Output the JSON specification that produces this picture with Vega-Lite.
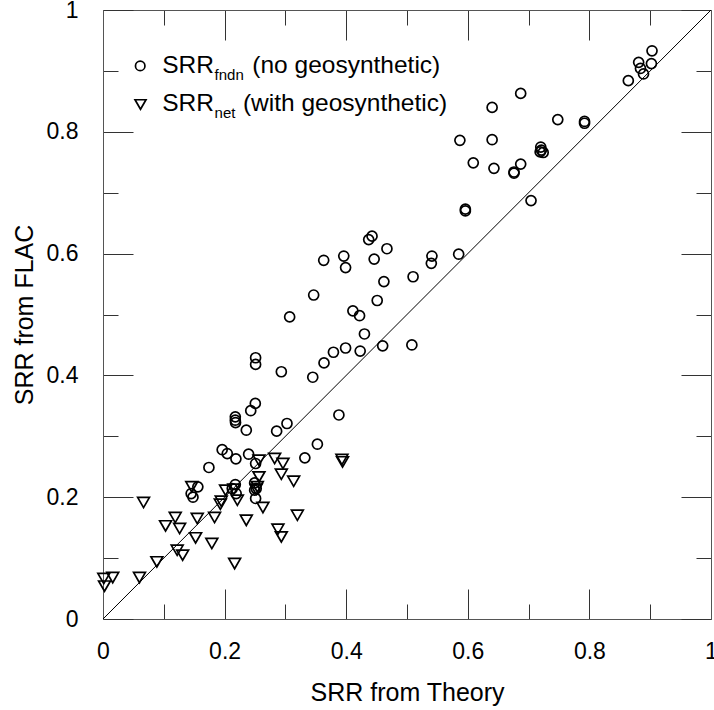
{
  "$schema": "https://vega.github.io/schema/vega-lite/v6.json",
  "width": 608,
  "height": 609,
  "autosize": {"type": "none"},
  "padding": {"left": 103, "top": 10, "right": 3, "bottom": 91},
  "background": "white",
  "config": {
    "view": {"stroke": null},
    "font": "Liberation Sans",
    "axis": {"grid": false, "labelFont": "Liberation Sans", "titleFont": "Liberation Sans", "labelColor": "black", "titleColor": "black", "titleFontWeight": "normal", "labelFontSize": 23, "titleFontSize": 25, "domainColor": "#555", "domainWidth": 1, "tickColor": "#333", "tickWidth": 1, "labelFlush": false, "labelOverlap": false}
  },
  "datasets": {
    "pts": [
      {"x":0.903,"y":0.933,"series":"fndn"},{"x":0.881,"y":0.914,"series":"fndn"},{"x":0.902,"y":0.912,"series":"fndn"},{"x":0.884,"y":0.904,"series":"fndn"},{"x":0.889,"y":0.895,"series":"fndn"},{"x":0.864,"y":0.884,"series":"fndn"},
      {"x":0.687,"y":0.863,"series":"fndn"},{"x":0.640,"y":0.840,"series":"fndn"},{"x":0.748,"y":0.820,"series":"fndn"},{"x":0.792,"y":0.817,"series":"fndn"},{"x":0.792,"y":0.814,"series":"fndn"},
      {"x":0.587,"y":0.786,"series":"fndn"},{"x":0.640,"y":0.787,"series":"fndn"},{"x":0.720,"y":0.775,"series":"fndn"},{"x":0.721,"y":0.770,"series":"fndn"},{"x":0.724,"y":0.766,"series":"fndn"},{"x":0.719,"y":0.767,"series":"fndn"},
      {"x":0.609,"y":0.749,"series":"fndn"},{"x":0.643,"y":0.740,"series":"fndn"},{"x":0.687,"y":0.747,"series":"fndn"},{"x":0.676,"y":0.734,"series":"fndn"},{"x":0.676,"y":0.732,"series":"fndn"},
      {"x":0.596,"y":0.673,"series":"fndn"},{"x":0.596,"y":0.670,"series":"fndn"},{"x":0.704,"y":0.687,"series":"fndn"},{"x":0.585,"y":0.599,"series":"fndn"},{"x":0.541,"y":0.596,"series":"fndn"},{"x":0.540,"y":0.584,"series":"fndn"},{"x":0.510,"y":0.562,"series":"fndn"},{"x":0.508,"y":0.450,"series":"fndn"},
      {"x":0.4425,"y":0.6286,"series":"fndn"},{"x":0.437,"y":0.623,"series":"fndn"},{"x":0.467,"y":0.608,"series":"fndn"},{"x":0.363,"y":0.589,"series":"fndn"},{"x":0.396,"y":0.596,"series":"fndn"},{"x":0.399,"y":0.577,"series":"fndn"},{"x":0.446,"y":0.591,"series":"fndn"},{"x":0.462,"y":0.554,"series":"fndn"},{"x":0.3465,"y":0.532,"series":"fndn"},{"x":0.451,"y":0.523,"series":"fndn"},{"x":0.307,"y":0.496,"series":"fndn"},{"x":0.411,"y":0.506,"series":"fndn"},{"x":0.422,"y":0.498,"series":"fndn"},
      {"x":0.430,"y":0.468,"series":"fndn"},{"x":0.399,"y":0.445,"series":"fndn"},{"x":0.379,"y":0.438,"series":"fndn"},{"x":0.3635,"y":0.4205,"series":"fndn"},{"x":0.423,"y":0.440,"series":"fndn"},{"x":0.460,"y":0.4485,"series":"fndn"},{"x":0.345,"y":0.397,"series":"fndn"},{"x":0.388,"y":0.335,"series":"fndn"},{"x":0.3526,"y":0.287,"series":"fndn"},{"x":0.332,"y":0.2646,"series":"fndn"},
      {"x":0.251,"y":0.429,"series":"fndn"},{"x":0.251,"y":0.418,"series":"fndn"},{"x":0.2933,"y":0.406,"series":"fndn"},{"x":0.2505,"y":0.354,"series":"fndn"},{"x":0.243,"y":0.342,"series":"fndn"},{"x":0.2176,"y":0.332,"series":"fndn"},{"x":0.2176,"y":0.3264,"series":"fndn"},{"x":0.218,"y":0.3226,"series":"fndn"},{"x":0.2357,"y":0.31,"series":"fndn"},{"x":0.3026,"y":0.321,"series":"fndn"},{"x":0.2856,"y":0.3084,"series":"fndn"},
      {"x":0.196,"y":0.278,"series":"fndn"},{"x":0.2044,"y":0.2717,"series":"fndn"},{"x":0.2395,"y":0.2706,"series":"fndn"},{"x":0.2186,"y":0.263,"series":"fndn"},{"x":0.1742,"y":0.2488,"series":"fndn"},{"x":0.251,"y":0.2553,"series":"fndn"},
      {"x":0.2176,"y":0.2208,"series":"fndn"},{"x":0.2126,"y":0.2143,"series":"fndn"},{"x":0.219,"y":0.206,"series":"fndn"},{"x":0.2494,"y":0.2235,"series":"fndn"},{"x":0.252,"y":0.2143,"series":"fndn"},{"x":0.2494,"y":0.2115,"series":"fndn"},{"x":0.251,"y":0.1979,"series":"fndn"},
      {"x":0.156,"y":0.217,"series":"fndn"},{"x":0.145,"y":0.206,"series":"fndn"},{"x":0.148,"y":0.2,"series":"fndn"},
      {"x":0.0667,"y":0.1913,"series":"net"},{"x":0.146,"y":0.217,"series":"net"},{"x":0.1029,"y":0.1529,"series":"net"},{"x":0.1188,"y":0.1667,"series":"net"},{"x":0.126,"y":0.1486,"series":"net"},{"x":0.155,"y":0.165,"series":"net"},{"x":0.1835,"y":0.1667,"series":"net"},{"x":0.193,"y":0.1885,"series":"net"},{"x":0.1945,"y":0.1934,"series":"net"},{"x":0.1523,"y":0.1332,"series":"net"},{"x":0.179,"y":0.124,"series":"net"},{"x":0.122,"y":0.113,"series":"net"},{"x":0.131,"y":0.1048,"series":"net"},{"x":0.0886,"y":0.0938,"series":"net"},{"x":0.060,"y":0.068,"series":"net"},{"x":0.0013,"y":0.0665,"series":"net"},{"x":0.016,"y":0.068,"series":"net"},{"x":0.0025,"y":0.054,"series":"net"},{"x":0.2165,"y":0.091,"series":"net"},{"x":0.2357,"y":0.162,"series":"net"},{"x":0.2016,"y":0.2115,"series":"net"},{"x":0.221,"y":0.195,"series":"net"},{"x":0.215,"y":0.213,"series":"net"},{"x":0.2565,"y":0.2607,"series":"net"},{"x":0.2565,"y":0.2333,"series":"net"},{"x":0.2538,"y":0.217,"series":"net"},{"x":0.252,"y":0.213,"series":"net"},{"x":0.263,"y":0.183,"series":"net"},{"x":0.2823,"y":0.2635,"series":"net"},{"x":0.296,"y":0.2553,"series":"net"},{"x":0.2933,"y":0.2378,"series":"net"},{"x":0.3136,"y":0.2263,"series":"net"},{"x":0.3197,"y":0.1704,"series":"net"},{"x":0.2877,"y":0.1474,"series":"net"},{"x":0.2933,"y":0.1348,"series":"net"},{"x":0.393,"y":0.262,"series":"net"},{"x":0.394,"y":0.258,"series":"net"}
    ],
    "diag": [{"x": 0, "y": 0}, {"x": 1, "y": 1}],
    "one": [{}]
  },
  "resolve": {"axis": {"x": "independent", "y": "independent"}},
  "layer": [
    {
      "data": {"name": "pts"},
      "transform": [{"filter": "datum.series == 'fndn'"}],
      "mark": {"type": "point", "shape": "circle", "filled": false, "color": "black", "strokeWidth": 1.7, "size": 100, "opacity": 1},
      "encoding": {
        "x": {"field": "x", "type": "quantitative", "scale": {"domain": [0, 1], "nice": false},
          "axis": {"orient": "bottom", "title": "SRR from Theory", "values": [0,0.1,0.2,0.3,0.4,0.5,0.6,0.7,0.8,0.9,1],
            "tickSize": {"condition": {"test": "round(datum.value*10)%2==0", "value": -30}, "value": -15},
            "labelExpr": "round(datum.value*10)%2==0 ? format(datum.value,'~g') : ''",
            "labelPadding": 51, "titlePadding": 2}},
        "y": {"field": "y", "type": "quantitative", "scale": {"domain": [0, 1], "nice": false},
          "axis": {"orient": "left", "title": "SRR from FLAC", "values": [0,0.1,0.2,0.3,0.4,0.5,0.6,0.7,0.8,0.9,1],
            "tickSize": {"condition": {"test": "round(datum.value*10)%2==0", "value": -30}, "value": -15},
            "labelExpr": "round(datum.value*10)%2==0 ? format(datum.value,'~g') : ''",
            "labelPadding": 55, "titlePadding": 9}}
      }
    },
    {
      "data": {"name": "pts"},
      "transform": [{"filter": "datum.series == 'net'"}],
      "mark": {"type": "point", "shape": "triangle-down", "filled": false, "color": "black", "strokeWidth": 1.7, "size": 140, "opacity": 1},
      "encoding": {
        "x": {"field": "x", "type": "quantitative", "axis": null},
        "y": {"field": "y", "type": "quantitative", "axis": null}
      }
    },
    {
      "data": {"name": "diag"},
      "mark": {"type": "line", "color": "black", "strokeWidth": 1},
      "encoding": {
        "x": {"field": "x", "type": "quantitative",
          "axis": {"orient": "top", "title": null, "labels": false, "values": [0,0.1,0.2,0.3,0.4,0.5,0.6,0.7,0.8,0.9,1],
            "tickSize": {"condition": {"test": "round(datum.value*10)%2==0", "value": -30}, "value": -15}}},
        "y": {"field": "y", "type": "quantitative",
          "axis": {"orient": "right", "title": null, "labels": false, "values": [0,0.1,0.2,0.3,0.4,0.5,0.6,0.7,0.8,0.9,1],
            "tickSize": {"condition": {"test": "round(datum.value*10)%2==0", "value": -30}, "value": -15}}}
      }
    },
    {
      "data": {"name": "one"},
      "mark": {"type": "point", "shape": "circle", "filled": false, "color": "black", "strokeWidth": 1.7, "size": 90, "opacity": 1},
      "encoding": {"x": {"datum": 0.0612, "type": "quantitative", "axis": null}, "y": {"datum": 0.9082, "type": "quantitative", "axis": null}}
    },
    {
      "data": {"name": "one"},
      "mark": {"type": "point", "shape": "triangle-down", "filled": false, "color": "black", "strokeWidth": 1.7, "size": 120, "opacity": 1},
      "encoding": {"x": {"datum": 0.0617, "type": "quantitative", "axis": null}, "y": {"datum": 0.8448, "type": "quantitative", "axis": null}}
    },
    {
      "data": {"name": "one"},
      "mark": {"type": "text", "text": "SRR", "align": "left", "baseline": "alphabetic", "fontSize": 24.5, "font": "Liberation Sans", "color": "black"},
      "encoding": {"x": {"datum": 0.0974, "type": "quantitative", "axis": null}, "y": {"datum": 0.8967, "type": "quantitative", "axis": null}}
    },
    {
      "data": {"name": "one"},
      "mark": {"type": "text", "text": "fndn", "align": "left", "baseline": "alphabetic", "fontSize": 15, "font": "Liberation Sans", "color": "black"},
      "encoding": {"x": {"datum": 0.1835, "type": "quantitative", "axis": null}, "y": {"datum": 0.8858, "type": "quantitative", "axis": null}}
    },
    {
      "data": {"name": "one"},
      "mark": {"type": "text", "text": "(no geosynthetic)", "align": "left", "baseline": "alphabetic", "fontSize": 24.5, "font": "Liberation Sans", "color": "black"},
      "encoding": {"x": {"datum": 0.2456, "type": "quantitative", "axis": null}, "y": {"datum": 0.8967, "type": "quantitative", "axis": null}}
    },
    {
      "data": {"name": "one"},
      "mark": {"type": "text", "text": "SRR", "align": "left", "baseline": "alphabetic", "fontSize": 24.5, "font": "Liberation Sans", "color": "black"},
      "encoding": {"x": {"datum": 0.0974, "type": "quantitative", "axis": null}, "y": {"datum": 0.8338, "type": "quantitative", "axis": null}}
    },
    {
      "data": {"name": "one"},
      "mark": {"type": "text", "text": "net", "align": "left", "baseline": "alphabetic", "fontSize": 15, "font": "Liberation Sans", "color": "black"},
      "encoding": {"x": {"datum": 0.1835, "type": "quantitative", "axis": null}, "y": {"datum": 0.8228, "type": "quantitative", "axis": null}}
    },
    {
      "data": {"name": "one"},
      "mark": {"type": "text", "text": "(with geosynthetic)", "align": "left", "baseline": "alphabetic", "fontSize": 24.5, "font": "Liberation Sans", "color": "black"},
      "encoding": {"x": {"datum": 0.2301, "type": "quantitative", "axis": null}, "y": {"datum": 0.8338, "type": "quantitative", "axis": null}}
    }
  ]
}
